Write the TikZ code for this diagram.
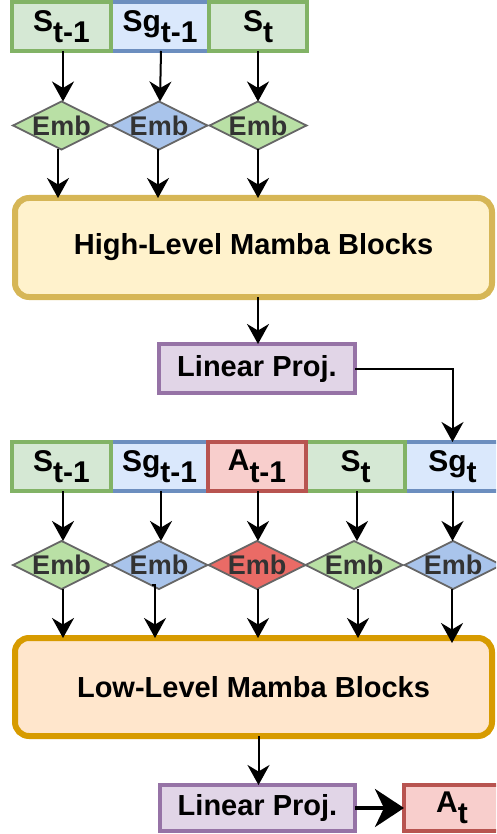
\documentclass[tikz,border=0pt]{standalone}
\usepackage{fontspec}
\setmainfont{Liberation Sans}
\usetikzlibrary{shapes.geometric,arrows.meta,calc}
\definecolor{gfill}{HTML}{D5E8D4}\definecolor{gline}{HTML}{82B366}
\definecolor{bfill}{HTML}{DAE8FC}\definecolor{bline}{HTML}{6C8EBF}
\definecolor{rfill}{HTML}{F8CECC}\definecolor{rline}{HTML}{B85450}
\definecolor{pfill}{HTML}{E1D5E7}\definecolor{pline}{HTML}{9673A6}
\definecolor{yfill}{HTML}{FFF2CC}\definecolor{yline}{HTML}{D6B656}
\definecolor{ofill}{HTML}{FFE6CC}\definecolor{oline}{HTML}{D79B00}
\definecolor{egreen}{HTML}{B9E0A5}\definecolor{eblue}{HTML}{A9C4EB}
\definecolor{ered}{HTML}{EA6B66}\definecolor{eline}{HTML}{666666}
\definecolor{etext}{HTML}{333333}
\newcommand{\sbx}[1]{\raisebox{-11.5pt}{#1}}
\begin{document}
\begin{tikzpicture}[x=1pt,y=-1pt,
  tok/.style={draw, line width=4pt, minimum height=49pt, inner sep=0pt, outer sep=0pt,
    font=\fontsize{30}{34}\selectfont\bfseries},
  gtok/.style={tok, fill=gfill, draw=gline},
  btok/.style={tok, fill=bfill, draw=bline},
  rtok/.style={tok, fill=rfill, draw=rline},
  proj/.style={draw=pline, fill=pfill, line width=4.5pt, inner sep=0pt, outer sep=0pt,
    minimum width=196pt, minimum height=49pt, font=\fontsize{29}{33}\selectfont\bfseries},
  bigbox/.style={line width=6pt, rounded corners=14pt, minimum width=477pt, inner sep=0pt,
    outer sep=0pt, font=\fontsize{29}{33}\selectfont\bfseries},
  emb/.style={diamond, draw=eline, line width=1.8pt, minimum width=97pt, minimum height=48pt,
    aspect=2, inner sep=-4pt, outer sep=0pt, text=etext, font=\fontsize{27}{30}\selectfont\bfseries},
  arr/.style={line width=2pt, -{Stealth[length=20pt,width=22pt,inset=6.5pt]}},
  bigarr/.style={line width=4pt, -{Stealth[length=29pt,width=38pt,inset=9pt]}},
]
\useasboundingbox (0,0) rectangle (496,834);
\clip (0,0) rectangle (496,834);

% top token row
\node[btok, minimum width=98pt] (a2) at (160,26.5) {Sg\sbx{t-1}};
\node[gtok, minimum width=99pt] (a1) at (61.5,26.5) {S\sbx{t-1}};
\node[gtok, minimum width=98pt] (a3) at (258,26.5) {S\sbx{t}};

% top embeddings
\node[emb, fill=egreen] (e1) at (61.5,125.5) {Emb};
\node[emb, fill=eblue]  (e2) at (159,125.5) {Emb};
\node[emb, fill=egreen] (e3) at (258,125.5) {Emb};

% high-level block
\node[bigbox, draw=yline, fill=yfill, minimum height=99pt] (high) at (253.5,247.5) {High-Level Mamba Blocks};

% projection 1
\node[proj] (lp1) at (257,368.5) {Linear Proj.};

% second token row
\node[btok, minimum width=97pt] (b2) at (159.5,466.5) {Sg\sbx{t-1}};
\node[btok, minimum width=95pt] (b5) at (452.5,466.5) {Sg\sbx{t}};
\node[gtok, minimum width=99pt] (b1) at (61.5,466.5) {S\sbx{t-1}};
\node[gtok, minimum width=99pt] (b4) at (355.5,466.5) {S\sbx{t}};
\node[rtok, minimum width=98pt] (b3) at (257,466.5) {A\sbx{t-1}};

% second embeddings
\node[emb, fill=egreen] (f1) at (61.5,565) {Emb};
\node[emb, fill=eblue]  (f2) at (159,565) {Emb};
\node[emb, fill=ered]   (f3) at (257,565) {Emb};
\node[emb, fill=egreen] (f4) at (354,565) {Emb};
\node[emb, fill=eblue]  (f5) at (453,565) {Emb};

% low-level block
\node[bigbox, draw=oline, fill=ofill, minimum height=98pt] (low) at (253.5,687) {Low-Level Mamba Blocks};

% projection 2 and output
\node[proj, minimum width=195pt, minimum height=46pt] (lp2) at (257.5,808) {Linear Proj.};
\node[rtok, minimum width=96pt, minimum height=46pt] (at) at (452,808) {A\sbx{t}};

% connectors, top
\draw[arr] ([xshift=1.5pt]a1.south) -- ([xshift=1.5pt]e1.north);
\draw[arr] ([xshift=1pt]a2.south) -- ([xshift=1pt]e2.north);
\draw[arr] (a3.south) -- (e3.north);
\draw[arr] ([xshift=-3.5pt]e1.south) -- ([xshift=-3.5pt]e1.south |- high.north);
\draw[arr] ([xshift=-1pt]e2.south) -- ([xshift=-1pt]e2.south |- high.north);
\draw[arr] (e3.south) -- (e3.south |- high.north);
\draw[arr] ([xshift=1pt]lp1.north |- high.south) -- ([xshift=1pt]lp1.north);
\draw[arr] (lp1.east) -| (b5.north);

% connectors, bottom
\draw[arr] ([xshift=1.5pt]b1.south) -- ([xshift=1.5pt]b1.south |- f1.north);
\draw[arr] ([xshift=1.5pt]b2.south) -- ([xshift=1.5pt]b2.south |- f2.north);
\draw[arr] ([xshift=1pt]b3.south) -- ([xshift=1pt]b3.south |- f3.north);
\draw[arr] ([xshift=1.5pt]b4.south) -- ([xshift=1.5pt]b4.south |- f4.north);
\draw[arr] (b5.south) -- (b5.south |- f5.north);

\draw[arr] ([xshift=1.5pt]f1.south) -- ([xshift=1.5pt]f1.south |- low.north);
\draw[arr] ([shift={(-7pt,4pt)}]f2.south) -- ([shift={(-4pt,4pt)}]f2.south) -- ([xshift=-4pt]f2.south |- low.north);
\draw[arr] ([xshift=1pt]f3.south) -- ([xshift=1pt]f3.south |- low.north);
\draw[arr] ([xshift=4pt]f4.south) -- ([xshift=4pt]f4.south |- low.north);
\draw[arr] ([xshift=-1pt]f5.south) -- ($([xshift=-1pt]f5.south |- low.north)+(0,5)$);

\draw[arr] ([xshift=1pt]lp2.north |- low.south) -- ([xshift=1pt]lp2.north);
\draw[bigarr] (lp2.east) -- (at.west);
\end{tikzpicture}
\end{document}
